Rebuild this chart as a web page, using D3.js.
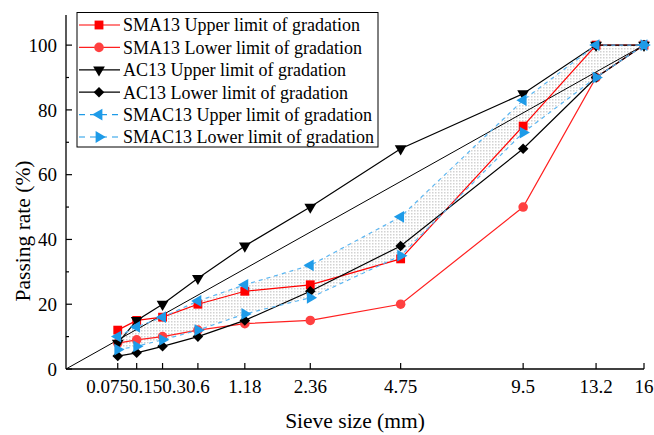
<html>
  <head>
    <meta charset="UTF-8">
    <script src="https://unpkg.com/d3@7/dist/d3.min.js"></script>
    <title>Gradation curves</title>
    <style>
      body { margin: 0; background: #fff; }
    </style>
  </head>
  <body>
  <script type="text/javascript">

    // sieve sizes (mm) and passing rates (%)
    var sieves = [0.075, 0.15, 0.3, 0.6, 1.18, 2.36, 4.75, 9.5, 13.2, 16];
    var sieveLabels = ["0.075", "0.15", "0.3", "0.6", "1.18", "2.36", "4.75", "9.5", "13.2", "16"];
    var sma13Upper = [12, 15, 16, 20, 24, 26, 34, 75, 100, 100];
    var sma13Lower = [8, 9, 10, 12, 14, 15, 20, 50, 90, 100];
    var ac13Upper = [8, 15, 20, 28, 38, 50, 68, 85, 100, 100];
    var ac13Lower = [4, 5, 7, 10, 15, 24, 38, 68, 90, 100];
    var smac13Upper = [10, 13, 16, 21, 26, 32, 47, 83, 100, 100];
    var smac13Lower = [6, 7, 9, 12, 17, 22, 35, 73, 90, 100];
    var yTicks = [0, 20, 40, 60, 80, 100];
    var yMinor = [10, 30, 50, 70, 90];

    var width = 654;
    var height = 435;

    var svg = d3.select('body')
                .append('svg')
                .attr('width', width)
                .attr('height', height)
                .attr('font-family', "Times New Roman, Liberation Serif, DejaVu Serif, serif");

    // gradation chart: x is d^0.45
    var x = d3.scalePow().exponent(0.45).domain([0, 16]).range([66, 644]);
    var y = d3.scaleLinear().domain([0, 109.3]).range([369, 15]);

    // dotted fill pattern for the SMAC13 band
    var pat = svg.append('defs').append('pattern')
        .attr('id', 'dots')
        .attr('width', 3).attr('height', 3)
        .attr('patternUnits', 'userSpaceOnUse');
    pat.append('rect').attr('width', 3).attr('height', 3).attr('fill', '#fff');
    pat.append('rect').attr('width', 1.5).attr('height', 1.5).attr('fill', '#d2d2d2');

    var band = d3.area()
        .x(function(d){ return x(d.s); })
        .y0(function(d){ return y(d.lo); })
        .y1(function(d){ return y(d.hi); });

    var bandData = sieves.map(function(s, i){
      return {s: s, lo: smac13Lower[i], hi: smac13Upper[i]};
    });

    svg.append('path')
       .datum(bandData)
       .attr('d', band)
       .attr('fill', 'url(#dots)');

    // maximum density line
    svg.append('line')
       .attr('x1', x(0)).attr('y1', y(0))
       .attr('x2', x(16)).attr('y2', y(100))
       .style('stroke', 'black')
       .style('stroke-width', 1);

    var series = [
      {name: "SMA13 Upper limit of gradation", vals: sma13Upper, line: "#ff0000", fill: "#ff0000", sym: d3.symbolSquare, size: 78, rot: 0, dash: null},
      {name: "SMA13 Lower limit of gradation", vals: sma13Lower, line: "#ff2020", fill: "#ff4040", sym: d3.symbolCircle, size: 72, rot: 0, dash: null},
      {name: "AC13 Upper limit of gradation", vals: ac13Upper, line: "#000", fill: "#000", sym: d3.symbolTriangle, size: 60, rot: 180, dash: null},
      {name: "AC13 Lower limit of gradation", vals: ac13Lower, line: "#000", fill: "#000", sym: d3.symbolSquare, size: 56, rot: 45, dash: null},
      {name: "SMAC13 Upper limit of gradation", vals: smac13Upper, line: "#5ab6f2", fill: "#1e9be8", sym: d3.symbolTriangle, size: 60, rot: -90, dash: "4,4"},
      {name: "SMAC13 Lower limit of gradation", vals: smac13Lower, line: "#5ab6f2", fill: "#1e9be8", sym: d3.symbolTriangle, size: 60, rot: 90, dash: "4,4"}
    ];

    var line = d3.line()
        .x(function(d){ return x(d[0]); })
        .y(function(d){ return y(d[1]); });

    series.forEach(function(se){
      var pts = sieves.map(function(s, i){ return [s, se.vals[i]]; });
      svg.append('path')
         .datum(pts)
         .attr('d', line)
         .attr('fill', 'none')
         .style('stroke', se.line)
         .style('stroke-width', 1.2)
         .style('stroke-dasharray', se.dash);
      svg.selectAll(null)
         .data(pts)
         .enter()
         .append('path')
         .attr('d', d3.symbol().type(se.sym).size(se.size))
         .attr('transform', function(d){
           return 'translate(' + x(d[0]) + ',' + y(d[1]) + ') rotate(' + se.rot + ')';
         })
         .style('fill', se.fill);
    });

    // axes
    svg.append('line')
       .attr('x1', x(0)).attr('y1', y(0)).attr('x2', x(16)).attr('y2', y(0))
       .style('stroke', 'black').style('stroke-width', 1.3);
    svg.append('line')
       .attr('x1', x(0)).attr('y1', y(0)).attr('x2', x(0)).attr('y2', 15)
       .style('stroke', 'black').style('stroke-width', 1.3);

    // x ticks (inward)
    svg.selectAll('.xt')
       .data(sieves)
       .enter()
       .append('line')
       .attr('x1', function(d){ return x(d); })
       .attr('x2', function(d){ return x(d); })
       .attr('y1', y(0)).attr('y2', y(0) - 6)
       .style('stroke', 'black').style('stroke-width', 1.2);

    var xl = svg.selectAll('.xl')
       .data(sieveLabels)
       .enter()
       .append('text')
       .attr('x', function(d, i){ return x(sieves[i]); })
       .attr('y', 393)
       .attr('text-anchor', 'middle')
       .attr('font-size', '19px')
       .text(function(d){ return d; });

    // crowded small sieves: pack labels leftwards against 0.6
    var nodes = xl.nodes();
    for (var i = 2; i >= 0; i--) {
      var nb = nodes[i + 1].getBBox();
      var w = nodes[i].getComputedTextLength();
      d3.select(nodes[i]).attr('x', nb.x - w / 2);
    }

    // y ticks
    svg.selectAll('.yt')
       .data(yTicks)
       .enter()
       .append('line')
       .attr('x1', x(0)).attr('x2', x(0) + 6)
       .attr('y1', function(d){ return y(d); })
       .attr('y2', function(d){ return y(d); })
       .style('stroke', 'black').style('stroke-width', 1.2);
    svg.selectAll('.ym')
       .data(yMinor)
       .enter()
       .append('line')
       .attr('x1', x(0)).attr('x2', x(0) + 3)
       .attr('y1', function(d){ return y(d); })
       .attr('y2', function(d){ return y(d); })
       .style('stroke', 'black').style('stroke-width', 1.2);
    svg.selectAll('.yl')
       .data(yTicks)
       .enter()
       .append('text')
       .attr('x', 57)
       .attr('y', function(d){ return y(d); })
       .attr('dy', '0.35em')
       .attr('text-anchor', 'end')
       .attr('font-size', '19px')
       .text(function(d){ return d; });

    // axis titles
    svg.append('text')
       .attr('x', 355).attr('y', 428)
       .attr('text-anchor', 'middle')
       .attr('font-size', '21.5px')
       .text('Sieve size (mm)');
    svg.append('text')
       .attr('transform', 'translate(30,231) rotate(-90)')
       .attr('text-anchor', 'middle')
       .attr('font-size', '21.5px')
       .text('Passing rate (%)');

    // legend
    var lg = svg.append('g');
    lg.append('rect')
      .attr('x', 77).attr('y', 12.5)
      .attr('width', 301).attr('height', 134.5)
      .attr('fill', 'white')
      .style('stroke', 'black').style('stroke-width', 1);

    series.forEach(function(se, i){
      var cy = 25 + i * 22.4;
      lg.append('line')
        .attr('x1', 79).attr('x2', 120)
        .attr('y1', cy).attr('y2', cy)
        .style('stroke', se.dash ? se.fill : se.line)
        .style('stroke-width', 1.2)
        .style('stroke-dasharray', se.dash ? "6,5" : null);
      lg.append('path')
        .attr('d', d3.symbol().type(se.sym).size(se.size))
        .attr('transform', 'translate(99,' + cy + ') rotate(' + se.rot + ')')
        .style('fill', se.fill);
      lg.append('text')
        .attr('x', 123).attr('y', cy)
        .attr('dy', '0.35em')
        .attr('font-size', '18px')
        .text(se.name);
    });

  </script>
  </body>
</html>
